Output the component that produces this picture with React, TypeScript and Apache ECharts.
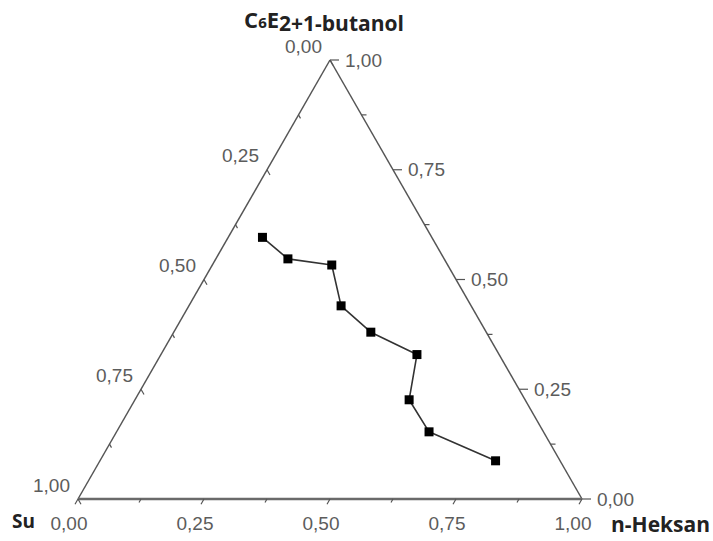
import React, { useEffect, useRef } from "react";
import * as echarts from "echarts";

// Ternary composition (mass fractions)
const nHeksan = [0.068, 0.143, 0.237, 0.302, 0.391, 0.508, 0.544, 0.620, 0.785];
const butanol = [0.596, 0.547, 0.533, 0.440, 0.380, 0.329, 0.226, 0.153, 0.087];
const su = [0.336, 0.310, 0.230, 0.258, 0.229, 0.163, 0.230, 0.227, 0.128];

const tickValues = [0, 0.125, 0.25, 0.375, 0.5, 0.625, 0.75, 0.875, 1];
const tickLabels = ["0,00", "0,25", "0,50", "0,75", "1,00"];

const S = Math.sqrt(3) / 2;

function toXY(h: number, c: number, w: number): [number, number] {
  const sum = h + c + w;
  const hh = h / sum;
  const cc = c / sum;
  return [hh + cc / 2, cc * S];
}

export default function App() {
  const ref = useRef<HTMLDivElement>(null);
  useEffect(() => {
    if (!ref.current) return;
    const chart = echarts.init(ref.current, null, { renderer: "svg" });

    const lineData = nHeksan.map((h, i) => toXY(h, butanol[i], su[i]));

    const tickData: number[][] = [];
    for (let axis = 0; axis < 3; axis++) {
      tickValues.forEach((t, i) => {
        tickData.push([axis, t, i % 2 === 0 ? 1 : 0, i / 2]);
      });
    }

    const labelFont = "Liberation Sans";

    chart.setOption({
      animation: false,
      grid: { left: 78, right: 131, top: 60, bottom: 42 },
      xAxis: { type: "value", min: 0, max: 1, show: false },
      yAxis: { type: "value", min: 0, max: S, show: false },
      series: [
        {
          type: "custom",
          data: [[0, 0]],
          silent: true,
          z: 1,
          renderItem: (params: any, api: any) => {
            const a = api.coord([0, 0]);
            const b = api.coord([1, 0]);
            const c = api.coord([0.5, S]);
            return {
              type: "group",
              children: [
                { type: "line", shape: { x1: a[0], y1: a[1], x2: c[0], y2: c[1] }, style: { stroke: "#555", lineWidth: 1.5 } },
                { type: "line", shape: { x1: b[0], y1: b[1], x2: c[0], y2: c[1] }, style: { stroke: "#555", lineWidth: 1.5 } },
                { type: "line", shape: { x1: a[0], y1: a[1], x2: b[0], y2: b[1] }, style: { stroke: "#6a6a6a", lineWidth: 2.5 } },
              ],
            };
          },
        },
        {
          type: "custom",
          data: tickData,
          silent: true,
          z: 2,
          renderItem: (params: any, api: any) => {
            const axis = api.value(0);
            const t = api.value(1);
            const major = api.value(2) === 1;
            const li = api.value(3);
            let p: number[];
            let dir: number[];
            let off: number[];
            let align: string;
            let len: number;
            if (axis === 0) {
              p = api.coord([t, 0]);
              dir = [-0.5, S];
              off = [-9, 24];
              align = "center";
              len = major ? 6 : 4;
            } else if (axis === 1) {
              p = api.coord([1 - t / 2, t * S]);
              dir = [1, 0];
              off = [15, 0];
              align = "left";
              len = major ? 9 : 5;
            } else {
              p = api.coord([(1 - t) / 2, (1 - t) * S]);
              dir = [0.5, S];
              off = [-8, -14];
              align = "right";
              len = major ? 6 : 4;
            }
            const children: any[] = [
              {
                type: "line",
                shape: { x1: p[0], y1: p[1], x2: p[0] + dir[0] * len, y2: p[1] + dir[1] * len },
                style: { stroke: "#555", lineWidth: 1.2 },
              },
            ];
            if (major) {
              children.push({
                type: "text",
                x: p[0] + off[0],
                y: p[1] + off[1],
                style: {
                  text: tickLabels[li],
                  fill: "#5c5c5c",
                  fontSize: 19,
                  fontFamily: labelFont,
                  align,
                  verticalAlign: "middle",
                },
              });
            }
            return { type: "group", children };
          },
        },
        {
          type: "line",
          data: lineData,
          symbol: "rect",
          symbolSize: 9,
          z: 3,
          itemStyle: { color: "#000" },
          lineStyle: { color: "#333", width: 1.6 },
        },
      ],
      graphic: [
        {
          type: "text",
          x: 324,
          y: 19,
          style: {
            text: "{a|C}{s|6}{a|E}{b|2+1-butanol}",
            align: "center",
            verticalAlign: "middle",
            rich: {
              a: { fontSize: 22, fontWeight: "bold", fontFamily: "Open Sans", fill: "#222", lineHeight: 22 },
              s: { fontSize: 15, fontWeight: "bold", fontFamily: "Open Sans", fill: "#222", lineHeight: 15, padding: [6, 0, 0, 0] },
              b: { fontSize: 21, fontWeight: "bold", fontFamily: "Open Sans", fill: "#222", lineHeight: 21, padding: [7, 0, 0, 0] },
            },
          },
        },
        {
          type: "text",
          x: 12,
          y: 521,
          style: { text: "Su", fontSize: 19, fontWeight: "bold", fontFamily: "Open Sans", fill: "#222", align: "left", verticalAlign: "middle" },
        },
        {
          type: "text",
          x: 611,
          y: 524,
          style: { text: "n-Heksan", fontSize: 21, fontWeight: "bold", fontFamily: "Open Sans", fill: "#222", align: "left", verticalAlign: "middle" },
        },
      ],
    });
    return () => chart.dispose();
  }, []);
  return <div ref={ref} style={{ position: "fixed", left: 0, top: 0, width: 713, height: 541, background: "#fff" }} />;
}
